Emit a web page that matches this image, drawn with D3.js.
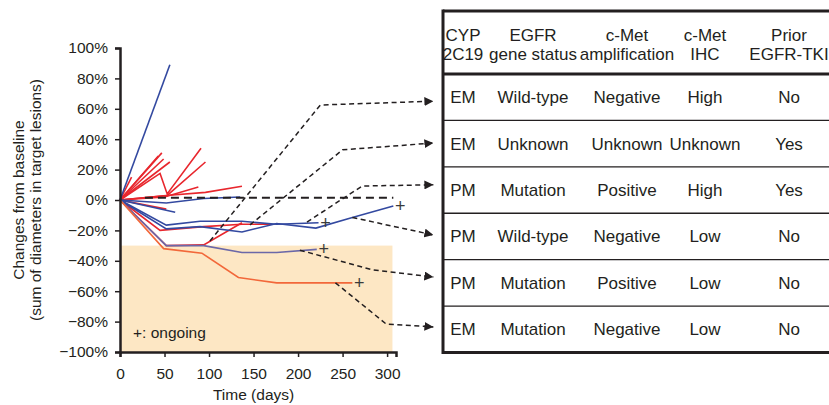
<!DOCTYPE html>
<html>
<head>
<meta charset="utf-8">
<script src="https://cdn.jsdelivr.net/npm/d3@7"></script>
<style>
  body { margin: 0; background: #fff; }
  svg { font-family: "Liberation Sans", Arial, sans-serif; }
</style>
</head>
<body>
<div id="chart"></div>
<script>
// tick values
const dayTicks = [0, 50, 100, 150, 200, 250, 300];
const pctTicks = [-100, -80, -60, -40, -20, 0, 20, 40, 60, 80, 100];

// patient curves: [day, % change]
const redLines = [
  [[0, 0], [47, 31]],
  [[0, 0], [43, 29]],
  [[0, 0], [49, 27]],
  [[0, 0], [56, 25]],
  [[0, 0], [13, 15]],
  [[0, 0], [45, 17.5], [53, 4], [91, 34]],
  [[0, 0], [53, 3], [96, 25]],
  [[0, 0], [50, 2], [88, 8.5]],
  [[0, 0], [52, 3], [96, 5], [137, 9]],
  [[0, 0], [52, -6]],
  [[0, 0], [45, -20], [94, -17.5], [137, -16], [170, -16]],
  [[0, 0], [52, -30], [94, -29.5], [137, -15]]
];
const blueLines = [
  [[0, 0], [56, 89]],
  [[0, 0], [52, -2], [94, 1], [135, 2]],
  [[0, 0], [62, -8]],
  [[0, 0], [52, -16.5], [90, -14], [137, -14], [176, -16], [223, -15]],
  [[0, 0], [52, -19], [90, -17.5], [137, -21], [176, -15.5], [220, -18.5], [261, -11.5], [307, -4]]
];
const purpleLine = [[0, 0], [52, -30], [94, -30], [137, -34.5], [176, -34.5], [221, -32.5]];
const orangeLine = [[0, 0], [49, -32], [92, -35], [133, -51], [176, -54.5], [261, -54.5]];

// ongoing patients (end points marked with +)
const ongoing = [blueLines[3], blueLines[4], purpleLine, orangeLine];

// reference dashed line and shaded response zone
const zeroLine = [[28, 1.5], [307, 1.5]];
const shadeZone = { x0: 0, x1: 306, y0: -100, y1: -30 };

// connectors from curves to table rows
const connectors = [
  [[101, -27], [225, 62.5], [352, 65]],
  [[146, -16.4], [250, 33], [352, 37.5]],
  [[210, -14.5], [272, 9.2], [352, 10]],
  [[261, -11.5], [352, -23]],
  [[202, -33], [284, -46], [352, -50.7]],
  [[242, -54.5], [299, -81.6], [352, -83.5]]
];

const tableHeader = [
  ["CYP", "2C19"],
  ["EGFR", "gene status"],
  ["c-Met", "amplification"],
  ["c-Met", "IHC"],
  ["Prior", "EGFR-TKI"]
];
const tableRows = [
  ["EM", "Wild-type", "Negative", "High", "No"],
  ["EM", "Unknown", "Unknown", "Unknown", "Yes"],
  ["PM", "Mutation", "Positive", "High", "Yes"],
  ["PM", "Wild-type", "Negative", "Low", "No"],
  ["PM", "Mutation", "Positive", "Low", "No"],
  ["EM", "Mutation", "Negative", "Low", "No"]
];

const width = 829, height = 405;
const ink = "#231f20";

const svg = d3.select("#chart")
  .append("svg")
  .attr("width", width)
  .attr("height", height);

const x = d3.scaleLinear().domain([0, 310]).range([120, 396]);
const y = d3.scaleLinear().domain([-100, 100]).range([352, 48]);

const line = d3.line().x(d => x(d[0])).y(d => y(d[1]));

// shaded zone
svg.append("rect")
  .attr("x", x(shadeZone.x0))
  .attr("y", y(shadeZone.y1))
  .attr("width", x(shadeZone.x1) - x(shadeZone.x0))
  .attr("height", y(shadeZone.y0) - y(shadeZone.y1))
  .attr("fill", "#fde7c4");

svg.append("text")
  .attr("x", 133)
  .attr("y", 338)
  .attr("font-size", 15.5)
  .attr("fill", ink)
  .text("+: ongoing");

// curves
const curves = svg.append("g").attr("fill", "none").attr("stroke-width", 1.6);

curves.selectAll(".red")
  .data(redLines)
  .enter()
  .append("path")
  .attr("class", "red")
  .attr("d", line)
  .attr("stroke", "#e8262d");

curves.selectAll(".blue")
  .data(blueLines)
  .enter()
  .append("path")
  .attr("class", "blue")
  .attr("d", line)
  .attr("stroke", "#3349a0");

curves.append("path").attr("d", line(purpleLine)).attr("stroke", "#6b68a8");
curves.append("path").attr("d", line(orangeLine)).attr("stroke", "#f2683a");

// reference dashed line
svg.append("path")
  .attr("d", line(zeroLine))
  .attr("fill", "none")
  .attr("stroke", ink)
  .attr("stroke-width", 2)
  .attr("stroke-dasharray", "8,5");

// ongoing marks
svg.selectAll(".plus")
  .data(ongoing)
  .enter()
  .append("text")
  .attr("class", "plus")
  .attr("x", d => x(d[d.length - 1][0]) + 7)
  .attr("y", d => y(d[d.length - 1][1]) + 6)
  .attr("text-anchor", "middle")
  .attr("font-size", 18)
  .attr("fill", "#3a3a3a")
  .text("+");

// connectors
svg.append("defs").append("marker")
  .attr("id", "arrow")
  .attr("markerUnits", "userSpaceOnUse")
  .attr("viewBox", "0 0 10 10")
  .attr("refX", 10)
  .attr("refY", 5)
  .attr("markerWidth", 9)
  .attr("markerHeight", 9)
  .attr("orient", "auto")
  .append("path")
  .attr("d", "M0,0L10,5L0,10z")
  .attr("fill", ink);

svg.selectAll(".connector")
  .data(connectors)
  .enter()
  .append("path")
  .attr("class", "connector")
  .attr("d", line)
  .attr("fill", "none")
  .attr("stroke", ink)
  .attr("stroke-width", 1.5)
  .attr("stroke-dasharray", "5,3.5")
  .attr("marker-end", "url(#arrow)");

// axes
const xAxis = svg.append("g")
  .attr("transform", `translate(0,${y(-100)})`)
  .call(d3.axisBottom(x).tickValues(dayTicks).tickSizeOuter(0).tickSize(5).tickPadding(11));

const yAxis = svg.append("g")
  .attr("transform", `translate(${x(0)},0)`)
  .call(d3.axisLeft(y).tickValues(pctTicks).tickSizeOuter(0).tickSize(5).tickPadding(7)
    .tickFormat(d => (d < 0 ? "\u2212" : "") + Math.abs(d) + "%"));

[xAxis, yAxis].forEach(a => {
  a.select(".domain").attr("stroke", ink).attr("stroke-width", 2.5);
  a.selectAll(".tick line").attr("stroke", ink).attr("stroke-width", 1.5);
  a.selectAll(".tick text")
    .attr("fill", ink)
    .attr("font-size", 15.5)
    .attr("font-family", "Liberation Sans, Arial, sans-serif");
});

svg.append("text")
  .attr("x", (x(0) + x(300)) / 2)
  .attr("y", 400)
  .attr("text-anchor", "middle")
  .attr("font-size", 15.5)
  .attr("fill", ink)
  .text("Time (days)");

const yTitle = svg.append("text")
  .attr("transform", "translate(0,200) rotate(-90)")
  .attr("text-anchor", "middle")
  .attr("font-size", 15.5)
  .attr("fill", ink);
yTitle.append("tspan").attr("x", 0).attr("y", 24).text("Changes from baseline");
yTitle.append("tspan").attr("x", 0).attr("y", 41).text("(sum of diameters in target lesions)");

// table
const tLeft = 443, tRight = 829, tTop = 11, headBottom = 74, tBottom = 352.5;
const colX = [463, 533, 627, 705, 789];
const rowH = (tBottom - headBottom) / tableRows.length;

const table = svg.append("g").attr("fill", ink).attr("font-size", 17);

table.append("line")
  .attr("x1", tLeft).attr("x2", tLeft)
  .attr("y1", tTop - 1.5).attr("y2", tBottom + 1.5)
  .attr("stroke", ink).attr("stroke-width", 3);

[tTop, headBottom, tBottom].forEach(yy => {
  table.append("line")
    .attr("x1", tLeft).attr("x2", tRight)
    .attr("y1", yy).attr("y2", yy)
    .attr("stroke", ink).attr("stroke-width", 3);
});

d3.range(1, tableRows.length).forEach(i => {
  const yy = headBottom + i * rowH;
  table.append("line")
    .attr("x1", tLeft).attr("x2", tRight)
    .attr("y1", yy).attr("y2", yy)
    .attr("stroke", ink).attr("stroke-width", 1.3);
});

tableHeader.forEach((h, i) => {
  h.forEach((s, j) => {
    table.append("text")
      .attr("x", colX[i])
      .attr("y", 41 + j * 19)
      .attr("text-anchor", "middle")
      .text(s);
  });
});

tableRows.forEach((r, ri) => {
  r.forEach((s, ci) => {
    table.append("text")
      .attr("x", colX[ci])
      .attr("y", headBottom + (ri + 0.5) * rowH + 6)
      .attr("text-anchor", "middle")
      .text(s);
  });
});
</script>
</body>
</html>
